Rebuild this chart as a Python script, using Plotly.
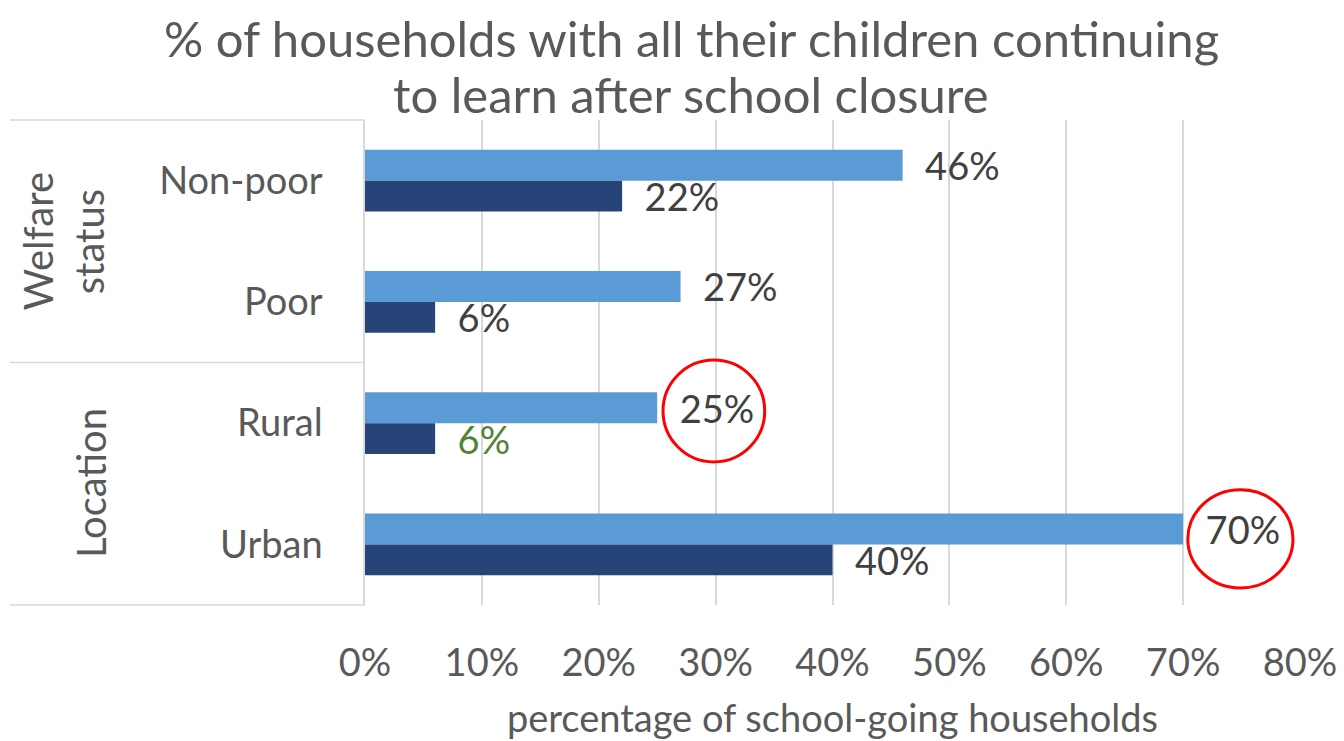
import plotly.graph_objects as go

categories = ["Non-poor", "Poor", "Rural", "Urban"]
series_light = [46, 27, 25, 70]
series_dark = [22, 6, 6, 40]
dark_label_colors = ["#404040", "#404040", "#548235", "#404040"]
x_ticks = [0, 10, 20, 30, 40, 50, 60, 70, 80]
x_tick_labels = ["0%", "10%", "20%", "30%", "40%", "50%", "60%", "70%", "80%"]
title_lines = ["% of households with all their children continuing",
               "to learn after school closure"]
group_words = ["Welfare", "status", "Location"]

FONT = "Lato"
GRAY = "#595959"
LINE = "#D9D9D9"

fig = go.Figure()
fig.add_trace(go.Bar(
    y=categories, x=series_light, orientation="h",
    marker=dict(color="#5B9BD5", line=dict(width=0)),
    text=[f"  {v}%" for v in series_light], textposition="outside",
    textfont=dict(size=38, color="#404040", family=FONT),
    constraintext="none", cliponaxis=False, name="light",
))
fig.add_trace(go.Bar(
    y=categories, x=series_dark, orientation="h",
    marker=dict(color="#264478", line=dict(width=0)),
    text=[f"  {v}%" for v in series_dark], textposition="outside",
    textfont=dict(size=38, color=dark_label_colors, family=FONT),
    constraintext="none", cliponaxis=False, name="dark",
))

fig.update_layout(
    width=1344, height=741,
    margin=dict(l=357, r=52, t=112, b=144, autoexpand=False),
    paper_bgcolor="white", plot_bgcolor="white",
    barmode="group", bargap=0.49, bargroupgap=0,
    showlegend=False,
    font=dict(family=FONT, color=GRAY),
    xaxis=dict(
        range=[0, 80], tickvals=x_ticks, ticktext=x_tick_labels,
        showgrid=True, gridcolor=LINE, gridwidth=1.5,
        zeroline=False, showline=False, automargin=False,
        tickfont=dict(size=38, color=GRAY),
        ticklabelstandoff=32,
        title=dict(text="percentage of school-going households",
                   font=dict(size=38, color=GRAY), standoff=22),
    ),
    yaxis=dict(
        autorange="reversed", showgrid=False, zeroline=False,
        showline=True, linecolor=LINE, linewidth=1.5, automargin=False,
        tickfont=dict(size=38, color=GRAY),
        ticklabelstandoff=33,
    ),
)

# title lines
for txt, yv in zip(title_lines, [1.17, 1.054]):
    fig.add_annotation(text=txt, xref="paper", yref="paper", x=0.349, y=yv,
                       xanchor="center", yanchor="middle", showarrow=False,
                       font=dict(size=49, color=GRAY))

# group frame lines
for yv in [1, 0.5, 0]:
    fig.add_shape(type="line", xref="paper", yref="paper",
                  x0=-0.38, x1=0, y0=yv, y1=yv,
                  line=dict(color=LINE, width=1.5))

# group labels
for txt, xv, yv in zip(group_words, [-0.3497, -0.2952, -0.293], [0.75, 0.75, 0.2515]):
    fig.add_annotation(text=txt, xref="paper", yref="paper",
                       x=xv, y=yv, textangle=-90, showarrow=False,
                       xanchor="center", yanchor="middle",
                       font=dict(size=40, color=GRAY))

# red circles highlighting
fig.add_shape(type="circle", xref="x", yref="y",
              x0=25.5, x1=34.2, y0=1.48, y1=2.32,
              line=dict(color="#FF0000", width=3))
fig.add_shape(type="circle", xref="x", yref="y",
              x0=70.4, x1=79.4, y0=2.55, y1=3.36,
              line=dict(color="#FF0000", width=3))

fig.write_html("out.html")
